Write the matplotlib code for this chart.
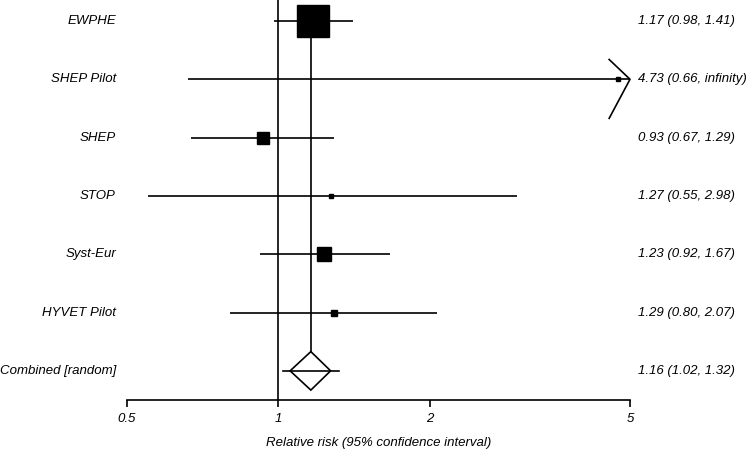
import matplotlib.pyplot as plt
import numpy as np

# study data
studies = ["EWPHE", "SHEP Pilot", "SHEP", "STOP", "Syst-Eur", "HYVET Pilot"]
rr = [1.17, 4.73, 0.93, 1.27, 1.23, 1.29]
lo = [0.98, 0.66, 0.67, 0.55, 0.92, 0.80]
hi = [1.41, np.inf, 1.29, 2.98, 1.67, 2.07]
hi_text = ["1.41", "infinity", "1.29", "2.98", "1.67", "2.07"]
weights = [23, 2.2, 8.6, 2.2, 9.4, 5.0]   # box size

# combined
comb_label = "Combined [random]"
comb_rr = 1.16
comb_lo = 1.02
comb_hi = 1.32
diamond_lo = 1.055
diamond_hi = 1.27

ticks = [0.5, 1, 2, 5]
tick_labels = ["0.5", "1", "2", "5"]
xmin, xmax = 0.5, 5

plt.rcParams['font.family'] = ['Liberation Sans', 'DejaVu Sans']
fs = 9.5
lw = 1.2

fig = plt.figure(figsize=(7.5, 4.51), dpi=100)
ax = fig.add_axes([127 / 750, 51 / 451, 503 / 750, 400 / 451])
ax.set_xscale('log')
ax.set_xlim(xmin, xmax)
ax.set_ylim(6.5, -0.36)

n = len(studies)
rows = np.arange(n + 1)

for i in range(n):
    right = min(hi[i], xmax)
    ax.plot([lo[i], right], [rows[i], rows[i]], color='black', lw=lw, solid_capstyle='butt')
    ax.plot(rr[i], rows[i], marker='s', color='black', markersize=weights[i], zorder=3)
    if hi[i] > xmax:
        # arrow head for interval running off the scale
        ax.plot([xmax * 0.909, xmax, xmax * 0.909],
                [rows[i] - 0.34, rows[i], rows[i] + 0.67],
                color='black', lw=lw, clip_on=False)
    ax.text(-0.022, rows[i], studies[i], transform=ax.get_yaxis_transform(),
            ha='right', va='center', style='italic', fontsize=fs)
    ax.text(1.016, rows[i], "%.2f (%.2f, %s)" % (rr[i], lo[i], hi_text[i]),
            transform=ax.get_yaxis_transform(), ha='left', va='center',
            style='italic', fontsize=fs)

# combined row
yc = rows[n]
ax.plot([comb_lo, comb_hi], [yc, yc], color='black', lw=lw)
ax.fill([diamond_lo, comb_rr, diamond_hi, comb_rr],
        [yc, yc - 0.33, yc, yc + 0.33], facecolor='none', edgecolor='black', lw=lw)
ax.plot([comb_rr, comb_rr], [rows[0], yc - 0.33], color='black', lw=lw, zorder=2)
ax.text(-0.022, yc, comb_label, transform=ax.get_yaxis_transform(),
        ha='right', va='center', style='italic', fontsize=fs)
ax.text(1.016, yc, "%.2f (%.2f, %.2f)" % (comb_rr, comb_lo, comb_hi),
        transform=ax.get_yaxis_transform(), ha='left', va='center',
        style='italic', fontsize=fs)

# line of no effect
ax.axvline(1, color='black', lw=lw)

for s in ['top', 'right', 'left']:
    ax.spines[s].set_visible(False)
ax.spines['bottom'].set_linewidth(lw)
ax.set_yticks([])
ax.set_xticks(ticks)
ax.set_xticklabels(tick_labels, style='italic', fontsize=fs)
ax.minorticks_off()
ax.tick_params(axis='x', direction='out', length=5, width=lw, pad=4)
ax.set_xlabel("Relative risk (95% confidence interval)", style='italic', fontsize=fs, labelpad=9)

fig.savefig("out.png", dpi=100)
